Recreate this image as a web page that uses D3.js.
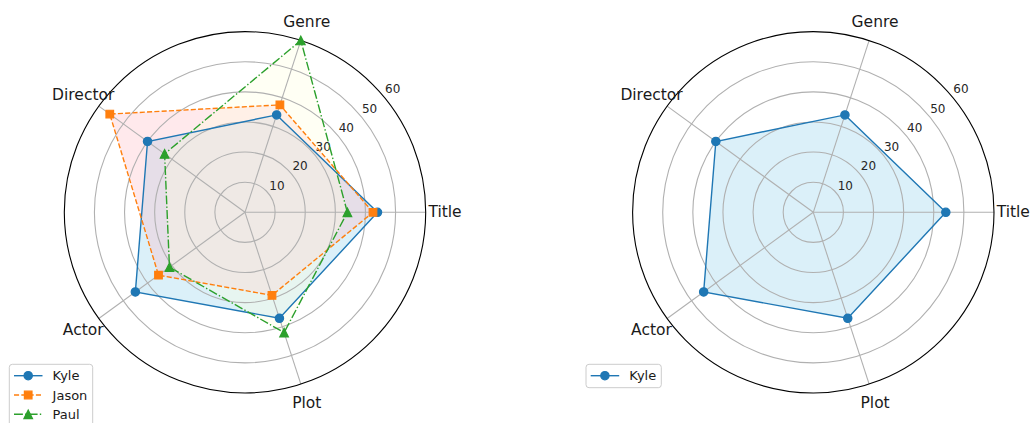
<!DOCTYPE html>
<html>
<head>
<meta charset="utf-8">
<script src="https://cdn.jsdelivr.net/npm/d3@7"></script>
<style>
  html, body { margin: 0; padding: 0; background: #ffffff; }
  svg { display: block; font-family: "DejaVu Sans", sans-serif; }
</style>
</head>
<body>
<svg id="chart" width="1033" height="423"></svg>
<script>
// Ratings per category
const categories = ["Title", "Genre", "Director", "Actor", "Plot"];
const kyle  = [44, 34, 40, 45, 37];
const jason = [42.5, 37.5, 55.5, 35.5, 29];
const paul  = [34, 60, 33, 31, 42];
const radialTicks = [10, 20, 30, 40, 50, 60];
const seriesNames = ["Kyle", "Jason", "Paul"];

const styles = {
  Kyle:  { color: "#1f77b4", fill: "#87ceeb", alpha: 0.3,  dash: null,              marker: "circle" },
  Jason: { color: "#ff7f0e", fill: "#ffb6c1", alpha: 0.3,  dash: "5.1,2.2",         marker: "square" },
  Paul:  { color: "#2ca02c", fill: "#ffffe0", alpha: 0.35, dash: "8.9,2.2,1.4,2.2", marker: "triangle" }
};

const svg = d3.select("#chart");
svg.append("rect").attr("width", 1033).attr("height", 423).attr("fill", "#ffffff");

const R = 180.7;
const r = d3.scaleLinear().domain([0, 60]).range([0, R]);
const n = categories.length;
// d3 radial angles run clockwise from 12 o'clock; categories go counter-clockwise from 3 o'clock
const angle = d3.scaleLinear().domain([0, n]).range([Math.PI / 2, Math.PI / 2 - 2 * Math.PI]);
const px = (a, rad) => rad * Math.sin(a);
const py = (a, rad) => -rad * Math.cos(a);

const markerSymbols = {
  circle:   d3.symbol().type(d3.symbolCircle).size(Math.PI * 4.17 * 4.17),
  square:   d3.symbol().type(d3.symbolSquare).size(7.6 * 7.6),
  triangle: null
};
function markerPath(kind) {
  if (kind === "triangle") {
    const h = 4.3;
    return `M0,${-h}L${h},${h}L${-h},${h}Z`;
  }
  return markerSymbols[kind]();
}

function drawRadar(cx, cy, series, legendBox) {
  const g = svg.append("g").attr("transform", `translate(${cx},${cy})`);

  // fills
  const area = d3.lineRadial()
    .angle((d, i) => angle(i))
    .radius(d => r(d))
    .curve(d3.curveLinearClosed);
  series.forEach(s => {
    g.append("path")
      .attr("d", area(s.values))
      .attr("fill", styles[s.name].fill)
      .attr("fill-opacity", styles[s.name].alpha)
      .attr("stroke", "none");
  });

  // grid circles
  g.selectAll("circle.grid")
    .data(radialTicks.slice(0, -1))
    .join("circle")
    .attr("class", "grid")
    .attr("r", d => r(d))
    .attr("fill", "none")
    .attr("stroke", "#b0b0b0")
    .attr("stroke-width", 1.1);

  // spokes
  g.selectAll("line.spoke")
    .data(categories)
    .join("line")
    .attr("class", "spoke")
    .attr("x1", 0).attr("y1", 0)
    .attr("x2", (d, i) => px(angle(i), R))
    .attr("y2", (d, i) => py(angle(i), R))
    .attr("stroke", "#b0b0b0")
    .attr("stroke-width", 1.1);

  // outer frame
  g.append("circle")
    .attr("r", R)
    .attr("fill", "none")
    .attr("stroke", "#000000")
    .attr("stroke-width", 1.1);

  // radial tick labels
  const la = (90 - 39.8) * Math.PI / 180;
  g.selectAll("text.rtick")
    .data(radialTicks)
    .join("text")
    .attr("class", "rtick")
    .attr("x", d => px(la, r(d) + 11.5))
    .attr("y", d => py(la, r(d) + 11.5))
    .attr("text-anchor", "middle")
    .attr("dominant-baseline", "central")
    .attr("font-size", 12)
    .attr("fill", "#262626")
    .text(d => d);

  // category labels
  g.selectAll("text.cat")
    .data(categories)
    .join("text")
    .attr("class", "cat")
    .attr("x", (d, i) => px(angle(i), 200))
    .attr("y", (d, i) => py(angle(i), 200))
    .attr("text-anchor", "middle")
    .attr("dominant-baseline", "central")
    .attr("font-size", 15.5)
    .attr("fill", "#1a1a1a")
    .text(d => d);

  // lines and markers
  const line = d3.lineRadial()
    .angle((d, i) => angle(i))
    .radius(d => r(d))
    .curve(d3.curveLinearClosed);
  series.forEach(s => {
    const st = styles[s.name];
    g.append("path")
      .attr("d", line(s.values))
      .attr("fill", "none")
      .attr("stroke", st.color)
      .attr("stroke-width", 1.4)
      .attr("stroke-dasharray", st.dash);
    g.selectAll(null)
      .data(s.values)
      .join("path")
      .attr("transform", (d, i) => `translate(${px(angle(i), r(d))},${py(angle(i), r(d))})`)
      .attr("d", markerPath(st.marker))
      .attr("fill", st.color)
      .attr("stroke", st.color)
      .attr("stroke-width", 1.2);
  });

  // legend
  const lg = svg.append("g");
  lg.append("rect")
    .attr("x", legendBox.x).attr("y", legendBox.y)
    .attr("width", legendBox.w).attr("height", legendBox.h)
    .attr("rx", 3).attr("ry", 3)
    .attr("fill", "#ffffff").attr("fill-opacity", 0.8)
    .attr("stroke", "#cccccc").attr("stroke-width", 1);
  series.forEach((s, i) => {
    const st = styles[s.name];
    const y = legendBox.y + 11.4 + i * 19.3;
    const x0 = legendBox.x + 4.7;
    lg.append("line")
      .attr("x1", x0).attr("x2", x0 + 28.5)
      .attr("y1", y).attr("y2", y)
      .attr("stroke", st.color).attr("stroke-width", 1.4)
      .attr("stroke-dasharray", st.dash);
    lg.append("path")
      .attr("transform", `translate(${x0 + 14.2},${y})`)
      .attr("d", markerPath(st.marker))
      .attr("fill", st.color)
      .attr("stroke", st.color)
      .attr("stroke-width", 1.2);
    lg.append("text")
      .attr("x", x0 + 38.6).attr("y", y)
      .attr("dominant-baseline", "central")
      .attr("font-size", 13)
      .attr("fill", "#1a1a1a")
      .text(s.name);
  });
}

const allSeries = [
  { name: seriesNames[0], values: kyle },
  { name: seriesNames[1], values: jason },
  { name: seriesNames[2], values: paul }
];

drawRadar(245, 212.3, allSeries, { x: 9.3, y: 364.3, w: 83.4, h: 62 });
drawRadar(813.3, 212.3, [allSeries[0]], { x: 586, y: 364.3, w: 75.3, h: 23.4 });
</script>
</body>
</html>
